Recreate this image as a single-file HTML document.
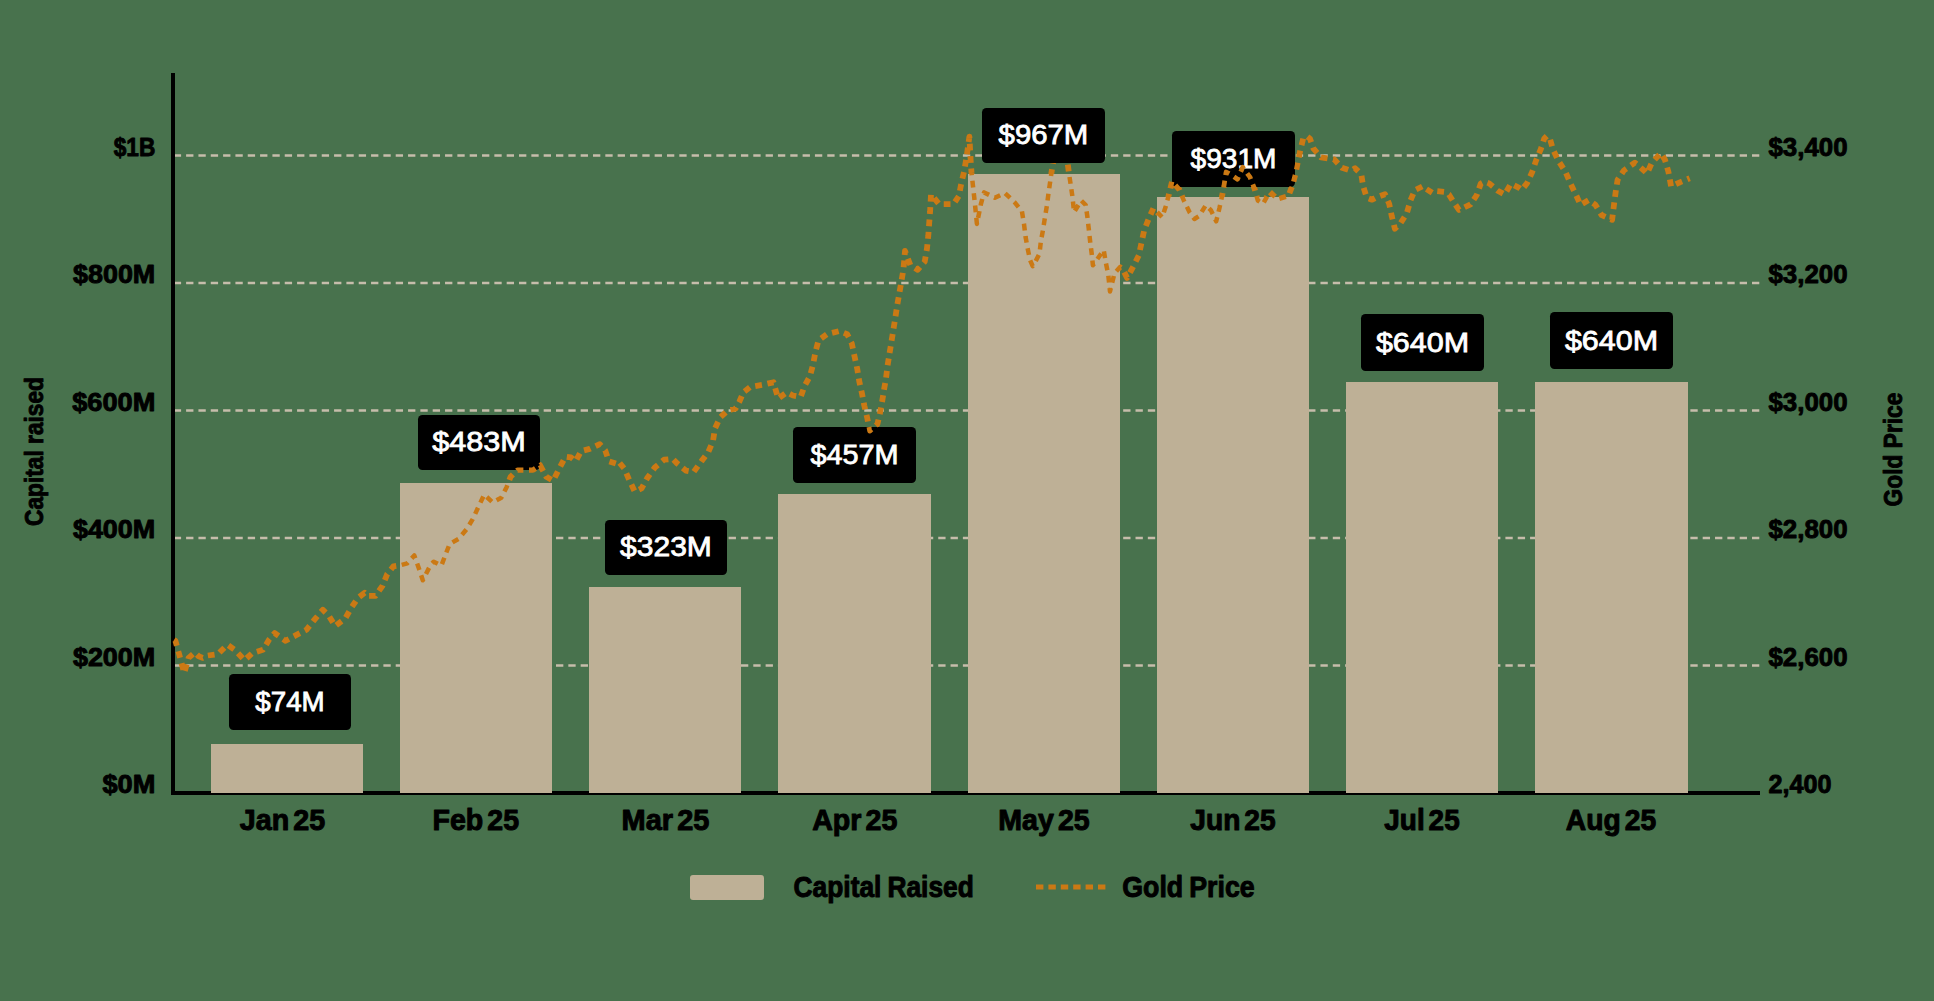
<!DOCTYPE html>
<html><head><meta charset="utf-8"><title>Capital Raised vs Gold Price</title>
<style>
html,body{margin:0;padding:0;background:#48724d;}
body{width:1934px;height:1001px;overflow:hidden;}
svg{display:block;}
text{font-family:"Liberation Sans",sans-serif;}
.ax{font-size:25px;font-weight:bold;fill:#000;stroke:#000;stroke-width:0.9px;paint-order:stroke;stroke-linejoin:round;}
.xl{word-spacing:-4px;font-size:29.5px;font-weight:bold;fill:#000;stroke:#000;stroke-width:1.0px;paint-order:stroke;stroke-linejoin:round;}
.lb{font-size:27px;fill:#fff;stroke:#fff;stroke-width:0.8px;}
</style></head><body>
<svg width="1934" height="1001" viewBox="0 0 1934 1001">
<rect width="1934" height="1001" fill="#48724d"/>

<line x1="173.77" y1="155.5" x2="1759.3" y2="155.5" stroke="#c6bdab" stroke-width="2.3" stroke-dasharray="7.33 5"/>
<line x1="173.77" y1="283" x2="1759.3" y2="283" stroke="#c6bdab" stroke-width="2.3" stroke-dasharray="7.33 5"/>
<line x1="173.77" y1="410.5" x2="1759.3" y2="410.5" stroke="#c6bdab" stroke-width="2.3" stroke-dasharray="7.33 5"/>
<line x1="173.77" y1="538" x2="1759.3" y2="538" stroke="#c6bdab" stroke-width="2.3" stroke-dasharray="7.33 5"/>
<line x1="173.77" y1="665.5" x2="1759.3" y2="665.5" stroke="#c6bdab" stroke-width="2.3" stroke-dasharray="7.33 5"/>
<rect x="171" y="73" width="4" height="722" fill="#000"/>
<rect x="171" y="791" width="1589" height="4" fill="#000"/>
<path d="M174.0,640.0 L175.4,640.8 L179.3,654.8 L184.2,673.0 L188.6,657.9 L194.8,652.5 L198.7,656.3 L202.6,657.9 L207.2,655.6 L218.0,654.0 L227.4,644.7 L235.1,650.1 L244.5,660.2 L252.2,653.2 L263.0,649.8 L269.3,639.3 L274.7,633.1 L285.6,640.8 L295.6,635.4 L306.5,629.7 L314.3,619.9 L322.8,609.8 L329.0,616.0 L335.2,626.1 L345.3,618.3 L351.5,607.5 L357.7,598.2 L364.7,592.7 L367.8,595.8 L375.5,595.8 L382.5,585.8 L387.2,574.1 L393.4,566.4 L398.8,565.6 L407.3,563.3 L414.3,555.5 L419.0,568.7 L422.8,580.3 L430.6,564.8 L433.7,561.7 L441.4,565.6 L445.4,555.0 L449.6,544.1 L458.6,538.8 L466.4,529.5 L472.6,519.4 L478.0,507.8 L484.2,494.6 L492.7,502.4 L501.3,497.7 L506.7,486.9 L510.6,476.8 L517.6,469.8 L533.0,469.8 L540.0,465.1 L546.3,476.8 L553.2,480.7 L559.4,468.2 L565.6,456.6 L571.0,457.4 L575.7,461.3 L581.1,451.2 L589.7,448.9 L599.8,444.2 L605.2,450.4 L609.0,461.3 L616.0,463.6 L618.4,461.3 L624.6,469.0 L629.2,479.9 L634.7,491.5 L641.6,488.4 L647.1,478.3 L654.8,467.5 L664.1,459.7 L672.7,458.9 L677.3,463.6 L685.8,470.6 L693.6,472.1 L701.4,461.3 L708.3,452.0 L713.0,441.1 L714.9,428.7 L720.0,417.6 L727.8,410.3 L735.5,408.7 L739.4,401.7 L743.3,392.4 L750.2,386.9 L763.4,384.6 L773.5,382.3 L778.2,398.6 L786.7,392.4 L792.9,395.5 L800.7,397.0 L804.5,386.2 L810.0,376.1 L813.1,364.5 L815.4,352.0 L818.5,340.4 L827.0,334.2 L839.4,331.1 L847.2,334.2 L851.8,343.5 L854.6,356.7 L857.3,369.1 L859.3,381.5 L861.9,393.1 L864.3,405.6 L867.4,418.7 L869.7,431.1 L877.4,424.2 L879.8,414.1 L882.1,401.7 L884.1,389.3 L886.0,378.4 L887.5,366.0 L889.5,353.6 L891.4,342.0 L893.4,329.6 L895.3,317.9 L897.2,305.3 L899.3,293.6 L901.4,281.5 L903.5,268.9 L905.0,250.9 L910.4,265.3 L917.6,269.8 L924.7,261.7 L926.9,249.1 L928.3,235.6 L929.2,223.0 L930.1,211.3 L931.0,194.2 L939.1,204.1 L953.5,204.1 L958.9,196.0 L961.1,184.4 L964.0,171.8 L966.1,160.1 L969.4,136.7 L970.6,159.2 L971.5,172.7 L972.9,185.3 L974.2,196.9 L975.5,209.5 L976.9,223.9 L980.9,204.1 L984.1,192.4 L994.9,197.8 L1004.8,193.0 L1014.7,202.3 L1021.9,211.3 L1024.0,223.9 L1025.5,236.5 L1027.6,248.2 L1030.0,259.9 L1032.7,266.2 L1035.4,261.7 L1039.5,253.6 L1040.8,241.9 L1043.1,229.3 L1044.9,217.6 L1047.0,205.0 L1048.5,193.3 L1050.3,180.8 L1052.1,168.2 L1054.5,155.0 L1060.0,148.0 L1065.0,152.0 L1067.7,163.7 L1069.0,173.6 L1070.8,185.3 L1072.6,197.8 L1074.0,212.2 L1081.2,200.5 L1085.7,205.0 L1087.5,217.6 L1088.8,229.3 L1090.2,241.9 L1091.7,253.6 L1092.9,265.3 L1097.4,259.0 L1103.7,250.0 L1106.0,263.5 L1108.2,274.3 L1110.0,291.4 L1114.5,273.4 L1119.9,267.1 L1122.6,268.9 L1127.1,277.9 L1133.4,266.2 L1138.8,255.4 L1141.5,242.8 L1144.2,230.2 L1148.4,219.6 L1153.4,208.2 L1162.2,217.3 L1165.8,206.2 L1169.0,194.3 L1172.1,181.3 L1179.4,189.6 L1184.0,201.0 L1189.7,212.5 L1194.4,219.0 L1199.1,216.1 L1205.8,205.2 L1211.0,210.4 L1216.2,221.3 L1219.4,208.3 L1222.0,196.4 L1224.0,185.5 L1226.1,172.0 L1230.8,174.5 L1237.5,179.2 L1242.7,167.3 L1250.0,177.1 L1254.7,189.1 L1257.8,200.5 L1263.0,203.8 L1269.7,191.9 L1277.5,199.3 L1288.3,196.2 L1292.4,185.5 L1295.6,173.2 L1298.0,161.1 L1300.6,149.0 L1303.2,138.5 L1306.5,136.0 L1310.0,138.8 L1313.5,148.7 L1321.0,157.3 L1334.1,159.3 L1341.9,167.7 L1351.2,170.8 L1355.1,168.2 L1361.3,174.4 L1363.1,186.0 L1366.7,197.6 L1372.1,199.7 L1376.0,197.6 L1385.0,194.2 L1389.2,203.8 L1391.8,216.3 L1394.9,228.7 L1400.5,223.2 L1406.7,213.6 L1410.4,200.7 L1414.8,190.2 L1423.3,186.0 L1426.4,189.1 L1432.6,193.0 L1436.5,191.0 L1445.0,191.9 L1448.9,194.5 L1452.8,200.7 L1459.0,210.0 L1470.6,204.3 L1476.8,195.0 L1480.7,183.7 L1484.6,181.7 L1489.2,183.4 L1497.8,190.7 L1504.7,194.5 L1510.9,183.7 L1518.7,187.6 L1521.8,189.9 L1527.2,182.9 L1532.2,172.0 L1536.1,160.4 L1540.9,148.8 L1544.3,138.5 L1547.0,135.8 L1550.0,139.0 L1553.0,149.6 L1558.5,160.9 L1565.4,171.7 L1570.2,182.9 L1575.5,193.8 L1580.5,204.9 L1588.7,200.1 L1595.5,204.9 L1601.7,215.2 L1612.1,219.8 L1614.1,203.8 L1615.7,191.9 L1617.6,179.8 L1623.8,170.5 L1634.9,162.7 L1643.6,170.2 L1647.0,173.6 L1651.7,163.0 L1660.7,153.1 L1664.9,159.6 L1668.4,171.7 L1671.1,186.5 L1680.4,182.1 L1689.7,178.3" fill="none" stroke="#cb7914" stroke-width="5.8" stroke-dasharray="6.8 5.6" stroke-linejoin="round"/>
<clipPath id="bc">
<rect x="211" y="744" width="152" height="49"/>
<rect x="400" y="483" width="152" height="310"/>
<rect x="589" y="587" width="152" height="206"/>
<rect x="778" y="494" width="153" height="299"/>
<rect x="968" y="174" width="152" height="619"/>
<rect x="1157" y="197" width="152" height="596"/>
<rect x="1346" y="382" width="152" height="411"/>
<rect x="1535" y="382" width="153" height="411"/>
</clipPath>
<rect x="211" y="744" width="152" height="49" fill="#beb096"/>
<rect x="400" y="483" width="152" height="310" fill="#beb096"/>
<rect x="589" y="587" width="152" height="206" fill="#beb096"/>
<rect x="778" y="494" width="153" height="299" fill="#beb096"/>
<rect x="968" y="174" width="152" height="619" fill="#beb096"/>
<rect x="1157" y="197" width="152" height="596" fill="#beb096"/>
<rect x="1346" y="382" width="152" height="411" fill="#beb096"/>
<rect x="1535" y="382" width="153" height="411" fill="#beb096"/>
<rect x="229" y="674" width="122" height="56" rx="4.5" fill="#000"/><text class="lb" x="255.3" y="710.7" textLength="69.4" lengthAdjust="spacingAndGlyphs">$74M</text>
<rect x="418" y="415" width="122" height="55" rx="4.5" fill="#000"/><text class="lb" x="432.2" y="450.7" textLength="93.5" lengthAdjust="spacingAndGlyphs">$483M</text>
<rect x="605" y="520" width="122" height="55" rx="4.5" fill="#000"/><text class="lb" x="620.1" y="555.7" textLength="91.7" lengthAdjust="spacingAndGlyphs">$323M</text>
<rect x="793" y="427" width="123" height="56" rx="4.5" fill="#000"/><text class="lb" x="810.5" y="463.7" textLength="88.1" lengthAdjust="spacingAndGlyphs">$457M</text>
<rect x="1172" y="131" width="123" height="56" rx="4.5" fill="#000"/><text class="lb" x="1190.6" y="167.7" textLength="85.8" lengthAdjust="spacingAndGlyphs">$931M</text>
<rect x="1361" y="314" width="123" height="57" rx="4.5" fill="#000"/><text class="lb" x="1375.9" y="351.7" textLength="93.2" lengthAdjust="spacingAndGlyphs">$640M</text>
<rect x="1550" y="312" width="123" height="57" rx="4.5" fill="#000"/><text class="lb" x="1564.9" y="349.7" textLength="93.2" lengthAdjust="spacingAndGlyphs">$640M</text>
<path d="M174.0,640.0 L175.4,640.8 L179.3,654.8 L184.2,673.0 L188.6,657.9 L194.8,652.5 L198.7,656.3 L202.6,657.9 L207.2,655.6 L218.0,654.0 L227.4,644.7 L235.1,650.1 L244.5,660.2 L252.2,653.2 L263.0,649.8 L269.3,639.3 L274.7,633.1 L285.6,640.8 L295.6,635.4 L306.5,629.7 L314.3,619.9 L322.8,609.8 L329.0,616.0 L335.2,626.1 L345.3,618.3 L351.5,607.5 L357.7,598.2 L364.7,592.7 L367.8,595.8 L375.5,595.8 L382.5,585.8 L387.2,574.1 L393.4,566.4 L398.8,565.6 L407.3,563.3 L414.3,555.5 L419.0,568.7 L422.8,580.3 L430.6,564.8 L433.7,561.7 L441.4,565.6 L445.4,555.0 L449.6,544.1 L458.6,538.8 L466.4,529.5 L472.6,519.4 L478.0,507.8 L484.2,494.6 L492.7,502.4 L501.3,497.7 L506.7,486.9 L510.6,476.8 L517.6,469.8 L533.0,469.8 L540.0,465.1 L546.3,476.8 L553.2,480.7 L559.4,468.2 L565.6,456.6 L571.0,457.4 L575.7,461.3 L581.1,451.2 L589.7,448.9 L599.8,444.2 L605.2,450.4 L609.0,461.3 L616.0,463.6 L618.4,461.3 L624.6,469.0 L629.2,479.9 L634.7,491.5 L641.6,488.4 L647.1,478.3 L654.8,467.5 L664.1,459.7 L672.7,458.9 L677.3,463.6 L685.8,470.6 L693.6,472.1 L701.4,461.3 L708.3,452.0 L713.0,441.1 L714.9,428.7 L720.0,417.6 L727.8,410.3 L735.5,408.7 L739.4,401.7 L743.3,392.4 L750.2,386.9 L763.4,384.6 L773.5,382.3 L778.2,398.6 L786.7,392.4 L792.9,395.5 L800.7,397.0 L804.5,386.2 L810.0,376.1 L813.1,364.5 L815.4,352.0 L818.5,340.4 L827.0,334.2 L839.4,331.1 L847.2,334.2 L851.8,343.5 L854.6,356.7 L857.3,369.1 L859.3,381.5 L861.9,393.1 L864.3,405.6 L867.4,418.7 L869.7,431.1 L877.4,424.2 L879.8,414.1 L882.1,401.7 L884.1,389.3 L886.0,378.4 L887.5,366.0 L889.5,353.6 L891.4,342.0 L893.4,329.6 L895.3,317.9 L897.2,305.3 L899.3,293.6 L901.4,281.5 L903.5,268.9 L905.0,250.9 L910.4,265.3 L917.6,269.8 L924.7,261.7 L926.9,249.1 L928.3,235.6 L929.2,223.0 L930.1,211.3 L931.0,194.2 L939.1,204.1 L953.5,204.1 L958.9,196.0 L961.1,184.4 L964.0,171.8 L966.1,160.1 L969.4,136.7 L970.6,159.2 L971.5,172.7 L972.9,185.3 L974.2,196.9 L975.5,209.5 L976.9,223.9 L980.9,204.1 L984.1,192.4 L994.9,197.8 L1004.8,193.0 L1014.7,202.3 L1021.9,211.3 L1024.0,223.9 L1025.5,236.5 L1027.6,248.2 L1030.0,259.9 L1032.7,266.2 L1035.4,261.7 L1039.5,253.6 L1040.8,241.9 L1043.1,229.3 L1044.9,217.6 L1047.0,205.0 L1048.5,193.3 L1050.3,180.8 L1052.1,168.2 L1054.5,155.0 L1060.0,148.0 L1065.0,152.0 L1067.7,163.7 L1069.0,173.6 L1070.8,185.3 L1072.6,197.8 L1074.0,212.2 L1081.2,200.5 L1085.7,205.0 L1087.5,217.6 L1088.8,229.3 L1090.2,241.9 L1091.7,253.6 L1092.9,265.3 L1097.4,259.0 L1103.7,250.0 L1106.0,263.5 L1108.2,274.3 L1110.0,291.4 L1114.5,273.4 L1119.9,267.1 L1122.6,268.9 L1127.1,277.9 L1133.4,266.2 L1138.8,255.4 L1141.5,242.8 L1144.2,230.2 L1148.4,219.6 L1153.4,208.2 L1162.2,217.3 L1165.8,206.2 L1169.0,194.3 L1172.1,181.3 L1179.4,189.6 L1184.0,201.0 L1189.7,212.5 L1194.4,219.0 L1199.1,216.1 L1205.8,205.2 L1211.0,210.4 L1216.2,221.3 L1219.4,208.3 L1222.0,196.4 L1224.0,185.5 L1226.1,172.0 L1230.8,174.5 L1237.5,179.2 L1242.7,167.3 L1250.0,177.1 L1254.7,189.1 L1257.8,200.5 L1263.0,203.8 L1269.7,191.9 L1277.5,199.3 L1288.3,196.2 L1292.4,185.5 L1295.6,173.2 L1298.0,161.1 L1300.6,149.0 L1303.2,138.5 L1306.5,136.0 L1310.0,138.8 L1313.5,148.7 L1321.0,157.3 L1334.1,159.3 L1341.9,167.7 L1351.2,170.8 L1355.1,168.2 L1361.3,174.4 L1363.1,186.0 L1366.7,197.6 L1372.1,199.7 L1376.0,197.6 L1385.0,194.2 L1389.2,203.8 L1391.8,216.3 L1394.9,228.7 L1400.5,223.2 L1406.7,213.6 L1410.4,200.7 L1414.8,190.2 L1423.3,186.0 L1426.4,189.1 L1432.6,193.0 L1436.5,191.0 L1445.0,191.9 L1448.9,194.5 L1452.8,200.7 L1459.0,210.0 L1470.6,204.3 L1476.8,195.0 L1480.7,183.7 L1484.6,181.7 L1489.2,183.4 L1497.8,190.7 L1504.7,194.5 L1510.9,183.7 L1518.7,187.6 L1521.8,189.9 L1527.2,182.9 L1532.2,172.0 L1536.1,160.4 L1540.9,148.8 L1544.3,138.5 L1547.0,135.8 L1550.0,139.0 L1553.0,149.6 L1558.5,160.9 L1565.4,171.7 L1570.2,182.9 L1575.5,193.8 L1580.5,204.9 L1588.7,200.1 L1595.5,204.9 L1601.7,215.2 L1612.1,219.8 L1614.1,203.8 L1615.7,191.9 L1617.6,179.8 L1623.8,170.5 L1634.9,162.7 L1643.6,170.2 L1647.0,173.6 L1651.7,163.0 L1660.7,153.1 L1664.9,159.6 L1668.4,171.7 L1671.1,186.5 L1680.4,182.1 L1689.7,178.3" fill="none" stroke="#cb7914" stroke-width="4.5" stroke-dasharray="6.8 5.6" stroke-linejoin="round" clip-path="url(#bc)"/>
<clipPath id="lc">
<rect x="229" y="674" width="122" height="56"/>
<rect x="418" y="415" width="122" height="55"/>
<rect x="605" y="520" width="122" height="55"/>
<rect x="793" y="427" width="123" height="56"/>
<rect x="1172" y="131" width="123" height="56"/>
<rect x="1361" y="314" width="123" height="57"/>
<rect x="1550" y="312" width="123" height="57"/>
</clipPath>
<path d="M174.0,640.0 L175.4,640.8 L179.3,654.8 L184.2,673.0 L188.6,657.9 L194.8,652.5 L198.7,656.3 L202.6,657.9 L207.2,655.6 L218.0,654.0 L227.4,644.7 L235.1,650.1 L244.5,660.2 L252.2,653.2 L263.0,649.8 L269.3,639.3 L274.7,633.1 L285.6,640.8 L295.6,635.4 L306.5,629.7 L314.3,619.9 L322.8,609.8 L329.0,616.0 L335.2,626.1 L345.3,618.3 L351.5,607.5 L357.7,598.2 L364.7,592.7 L367.8,595.8 L375.5,595.8 L382.5,585.8 L387.2,574.1 L393.4,566.4 L398.8,565.6 L407.3,563.3 L414.3,555.5 L419.0,568.7 L422.8,580.3 L430.6,564.8 L433.7,561.7 L441.4,565.6 L445.4,555.0 L449.6,544.1 L458.6,538.8 L466.4,529.5 L472.6,519.4 L478.0,507.8 L484.2,494.6 L492.7,502.4 L501.3,497.7 L506.7,486.9 L510.6,476.8 L517.6,469.8 L533.0,469.8 L540.0,465.1 L546.3,476.8 L553.2,480.7 L559.4,468.2 L565.6,456.6 L571.0,457.4 L575.7,461.3 L581.1,451.2 L589.7,448.9 L599.8,444.2 L605.2,450.4 L609.0,461.3 L616.0,463.6 L618.4,461.3 L624.6,469.0 L629.2,479.9 L634.7,491.5 L641.6,488.4 L647.1,478.3 L654.8,467.5 L664.1,459.7 L672.7,458.9 L677.3,463.6 L685.8,470.6 L693.6,472.1 L701.4,461.3 L708.3,452.0 L713.0,441.1 L714.9,428.7 L720.0,417.6 L727.8,410.3 L735.5,408.7 L739.4,401.7 L743.3,392.4 L750.2,386.9 L763.4,384.6 L773.5,382.3 L778.2,398.6 L786.7,392.4 L792.9,395.5 L800.7,397.0 L804.5,386.2 L810.0,376.1 L813.1,364.5 L815.4,352.0 L818.5,340.4 L827.0,334.2 L839.4,331.1 L847.2,334.2 L851.8,343.5 L854.6,356.7 L857.3,369.1 L859.3,381.5 L861.9,393.1 L864.3,405.6 L867.4,418.7 L869.7,431.1 L877.4,424.2 L879.8,414.1 L882.1,401.7 L884.1,389.3 L886.0,378.4 L887.5,366.0 L889.5,353.6 L891.4,342.0 L893.4,329.6 L895.3,317.9 L897.2,305.3 L899.3,293.6 L901.4,281.5 L903.5,268.9 L905.0,250.9 L910.4,265.3 L917.6,269.8 L924.7,261.7 L926.9,249.1 L928.3,235.6 L929.2,223.0 L930.1,211.3 L931.0,194.2 L939.1,204.1 L953.5,204.1 L958.9,196.0 L961.1,184.4 L964.0,171.8 L966.1,160.1 L969.4,136.7 L970.6,159.2 L971.5,172.7 L972.9,185.3 L974.2,196.9 L975.5,209.5 L976.9,223.9 L980.9,204.1 L984.1,192.4 L994.9,197.8 L1004.8,193.0 L1014.7,202.3 L1021.9,211.3 L1024.0,223.9 L1025.5,236.5 L1027.6,248.2 L1030.0,259.9 L1032.7,266.2 L1035.4,261.7 L1039.5,253.6 L1040.8,241.9 L1043.1,229.3 L1044.9,217.6 L1047.0,205.0 L1048.5,193.3 L1050.3,180.8 L1052.1,168.2 L1054.5,155.0 L1060.0,148.0 L1065.0,152.0 L1067.7,163.7 L1069.0,173.6 L1070.8,185.3 L1072.6,197.8 L1074.0,212.2 L1081.2,200.5 L1085.7,205.0 L1087.5,217.6 L1088.8,229.3 L1090.2,241.9 L1091.7,253.6 L1092.9,265.3 L1097.4,259.0 L1103.7,250.0 L1106.0,263.5 L1108.2,274.3 L1110.0,291.4 L1114.5,273.4 L1119.9,267.1 L1122.6,268.9 L1127.1,277.9 L1133.4,266.2 L1138.8,255.4 L1141.5,242.8 L1144.2,230.2 L1148.4,219.6 L1153.4,208.2 L1162.2,217.3 L1165.8,206.2 L1169.0,194.3 L1172.1,181.3 L1179.4,189.6 L1184.0,201.0 L1189.7,212.5 L1194.4,219.0 L1199.1,216.1 L1205.8,205.2 L1211.0,210.4 L1216.2,221.3 L1219.4,208.3 L1222.0,196.4 L1224.0,185.5 L1226.1,172.0 L1230.8,174.5 L1237.5,179.2 L1242.7,167.3 L1250.0,177.1 L1254.7,189.1 L1257.8,200.5 L1263.0,203.8 L1269.7,191.9 L1277.5,199.3 L1288.3,196.2 L1292.4,185.5 L1295.6,173.2 L1298.0,161.1 L1300.6,149.0 L1303.2,138.5 L1306.5,136.0 L1310.0,138.8 L1313.5,148.7 L1321.0,157.3 L1334.1,159.3 L1341.9,167.7 L1351.2,170.8 L1355.1,168.2 L1361.3,174.4 L1363.1,186.0 L1366.7,197.6 L1372.1,199.7 L1376.0,197.6 L1385.0,194.2 L1389.2,203.8 L1391.8,216.3 L1394.9,228.7 L1400.5,223.2 L1406.7,213.6 L1410.4,200.7 L1414.8,190.2 L1423.3,186.0 L1426.4,189.1 L1432.6,193.0 L1436.5,191.0 L1445.0,191.9 L1448.9,194.5 L1452.8,200.7 L1459.0,210.0 L1470.6,204.3 L1476.8,195.0 L1480.7,183.7 L1484.6,181.7 L1489.2,183.4 L1497.8,190.7 L1504.7,194.5 L1510.9,183.7 L1518.7,187.6 L1521.8,189.9 L1527.2,182.9 L1532.2,172.0 L1536.1,160.4 L1540.9,148.8 L1544.3,138.5 L1547.0,135.8 L1550.0,139.0 L1553.0,149.6 L1558.5,160.9 L1565.4,171.7 L1570.2,182.9 L1575.5,193.8 L1580.5,204.9 L1588.7,200.1 L1595.5,204.9 L1601.7,215.2 L1612.1,219.8 L1614.1,203.8 L1615.7,191.9 L1617.6,179.8 L1623.8,170.5 L1634.9,162.7 L1643.6,170.2 L1647.0,173.6 L1651.7,163.0 L1660.7,153.1 L1664.9,159.6 L1668.4,171.7 L1671.1,186.5 L1680.4,182.1 L1689.7,178.3" fill="none" stroke="#cb7914" stroke-width="4.8" stroke-dasharray="6.8 5.6" stroke-linejoin="round" clip-path="url(#lc)"/>
<rect x="982" y="108" width="123" height="55" rx="4.5" fill="#000"/><text class="lb" x="998.6" y="143.7" textLength="89.7" lengthAdjust="spacingAndGlyphs">$967M</text>
<text class="ax" x="113.7" y="155.5" textLength="41.6" lengthAdjust="spacingAndGlyphs">$1B</text>
<text class="ax" x="73.0" y="283" textLength="82.3" lengthAdjust="spacingAndGlyphs">$800M</text>
<text class="ax" x="72.2" y="410.5" textLength="83.1" lengthAdjust="spacingAndGlyphs">$600M</text>
<text class="ax" x="72.9" y="538" textLength="82.4" lengthAdjust="spacingAndGlyphs">$400M</text>
<text class="ax" x="72.9" y="665.5" textLength="82.4" lengthAdjust="spacingAndGlyphs">$200M</text>
<text class="ax" x="102.4" y="793" textLength="52.9" lengthAdjust="spacingAndGlyphs">$0M</text>
<text class="ax" x="1768.5" y="155.5" textLength="79.0" lengthAdjust="spacingAndGlyphs">$3,400</text>
<text class="ax" x="1768.5" y="283" textLength="79.0" lengthAdjust="spacingAndGlyphs">$3,200</text>
<text class="ax" x="1768.5" y="410.5" textLength="79.0" lengthAdjust="spacingAndGlyphs">$3,000</text>
<text class="ax" x="1768.5" y="538" textLength="79.0" lengthAdjust="spacingAndGlyphs">$2,800</text>
<text class="ax" x="1768.5" y="665.5" textLength="79.0" lengthAdjust="spacingAndGlyphs">$2,600</text>
<text class="ax" x="1768.5" y="793" textLength="63.0" lengthAdjust="spacingAndGlyphs">2,400</text>
<text class="xl" x="239.8" y="829.5" textLength="85.4" lengthAdjust="spacingAndGlyphs">Jan 25</text>
<text class="xl" x="432.5" y="829.5" textLength="86.6" lengthAdjust="spacingAndGlyphs">Feb 25</text>
<text class="xl" x="621.6" y="829.5" textLength="87.8" lengthAdjust="spacingAndGlyphs">Mar 25</text>
<text class="xl" x="812.2" y="829.5" textLength="85.2" lengthAdjust="spacingAndGlyphs">Apr 25</text>
<text class="xl" x="998.3" y="829.5" textLength="91.4" lengthAdjust="spacingAndGlyphs">May 25</text>
<text class="xl" x="1190.3" y="829.5" textLength="85.4" lengthAdjust="spacingAndGlyphs">Jun 25</text>
<text class="xl" x="1384.3" y="829.5" textLength="75.4" lengthAdjust="spacingAndGlyphs">Jul 25</text>
<text class="xl" x="1565.8" y="829.5" textLength="90.4" lengthAdjust="spacingAndGlyphs">Aug 25</text>
<text class="ax" transform="translate(43.4,526) rotate(-90)" textLength="149" lengthAdjust="spacingAndGlyphs">Capital raised</text>
<text class="ax" transform="translate(1901.5,506.4) rotate(-90)" textLength="113.8" lengthAdjust="spacingAndGlyphs">Gold Price</text>
<rect x="690" y="875" width="74" height="25" rx="3" fill="#beb096"/>
<text class="xl" style="word-spacing:-1.5px" x="793.6" y="896.6" textLength="180.2" lengthAdjust="spacingAndGlyphs">Capital Raised</text>
<line x1="1036" y1="887" x2="1105.4" y2="887" stroke="#cb7914" stroke-width="5" stroke-dasharray="7.4 5"/>
<text class="xl" style="word-spacing:-1.5px" x="1122.3" y="896.6" textLength="132.4" lengthAdjust="spacingAndGlyphs">Gold Price</text>
</svg></body></html>
